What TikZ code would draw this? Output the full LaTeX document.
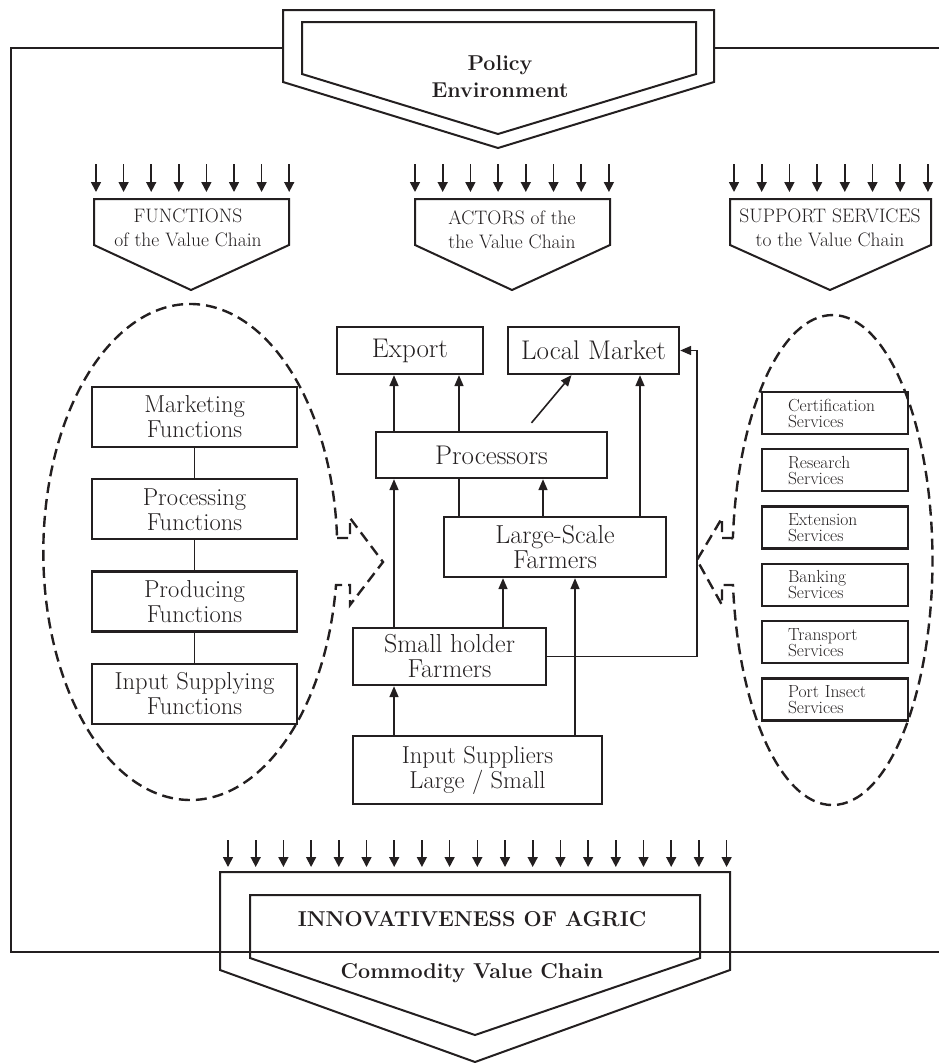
\documentclass[tikz,border=0pt]{standalone}
\usepackage{fontspec}
\usepackage{tikz}
\usetikzlibrary{arrows.meta,positioning,calc}
\definecolor{InkGray}{RGB}{35,31,32}
\newcommand{\boxfont}{\fontsize{27}{28}\selectfont}
\newcommand{\fnfont}{\fontsize{24.5}{25}\selectfont}
\newcommand{\farmfont}{\fontsize{26}{25}\selectfont}
\newcommand{\svcfont}{\fontsize{17.5}{16}\selectfont}
\newcommand{\headfont}{\fontsize{19.5}{24}\selectfont}
\newcommand{\titlefont}{\fontsize{21.5}{27}\selectfont\bfseries}

\begin{document}
\begin{tikzpicture}[x=1pt, y=-1pt,
    box/.style={draw=InkGray, line width=2.3pt, align=center, text=InkGray, inner sep=2pt},
    fnbox/.style={box, font=\fnfont, minimum width=205pt, minimum height=60pt},
    svcbox/.style={box, font=\svcfont, minimum width=146pt, minimum height=42pt, text width=94pt, align=left},
    headtext/.style={align=center, text=InkGray, inner sep=0pt},
    arrow/.style={-{Triangle[length=11pt,width=9pt]}, line width=1.6pt, draw=InkGray},
    link/.style={line width=1.6pt, draw=InkGray},
    drop/.style={-{Triangle[length=10pt,width=10pt]}, line width=1.6pt, draw=InkGray},
    pent/.style={line width=2pt, draw=InkGray, line join=miter},
    frameline/.style={line width=1.8pt, draw=InkGray},
    dashline/.style={line width=2.4pt, draw=InkGray, dash pattern=on 11pt off 6pt}
  ]
  \useasboundingbox (0,0) rectangle (939,1063);

  % outer frame
  \draw[frameline] (283,48) -- (11,48) -- (11,952) -- (939,952);
  \draw[frameline] (714,48) -- (939,48);

  % policy environment
  \draw[pent] (283,10) -- (714,10) -- (714,82) -- (498,148) -- (283,82) -- cycle;
  \draw[pent] (302,22) -- (696,22) -- (696,74) -- (498,134) -- (302,74) -- cycle;
  \node[headtext, font=\titlefont] (policy) at (500,77) {Policy\\Environment};

  % the three headings
  \foreach \i in {0,...,7} {
    \draw[drop] (96+27.6*\i,164) -- ++(0,28);
    \draw[drop] (415+27.7*\i,164) -- ++(0,28);
    \draw[drop] (734+27.7*\i,164) -- ++(0,28);
  }
  \draw[pent] (94,199) -- (289,199) -- (289,245) -- (191,290) -- (94,245) -- cycle;
  \draw[pent] (415,199) -- (610,199) -- (610,245) -- (512,290) -- (415,245) -- cycle;
  \draw[pent] (730,199) -- (931,199) -- (931,245) -- (830,290) -- (730,245) -- cycle;
  \node[headtext, font=\headfont] (fun) at (188,228) {FUNCTIONS\\of the Value Chain};
  \node[headtext, font=\headfont] (act) at (512,230) {ACTORS of the\\the Value Chain};
  \node[headtext, font=\headfont] (sup) at (830,228) {SUPPORT SERVICES\\to the Value Chain};

  % functions
  \draw[dashline] (337,538) -- (350,538) -- (350,518) -- (383,562) -- (350,605) -- (350,585) -- (336,585)
    arc[start angle=-7.65, end angle=-356.76, x radius=147pt, y radius=248pt] -- cycle;
  \node[fnbox] (market) at (194.5,417) {Marketing\\Functions};
  \node[fnbox, below=30pt of market] (process) {Processing\\Functions};
  \node[fnbox, below=30pt of process] (produce) {Producing\\Functions};
  \node[fnbox, below=30pt of produce] (supply) {Input Supplying\\Functions};
  \draw[link] (market) -- (process);
  \draw[link] (process) -- (produce);
  \draw[link] (produce) -- (supply);

  % support services
  \draw[dashline] (733,538) -- (722,538) -- (722,518) -- (697,560) -- (722,605) -- (722,585) -- (733,585)
    arc[start angle=185.85, end angle=534.85, x radius=100pt, y radius=245pt] -- cycle;
  \node[svcbox] (cert) at (835,413) {Certification\\Services};
  \node[svcbox, below=13pt of cert] (research) {Research\\Services};
  \node[svcbox, below=13pt of research] (extend) {Extension\\Services};
  \node[svcbox, below=13pt of extend] (bank) {Banking\\Services};
  \node[svcbox, below=13pt of bank] (transport) {Transport\\Services};
  \node[svcbox, below=13pt of transport] (port) {Port Insect\\Services};

  % actors
  \node[box, font=\boxfont, minimum width=146pt, minimum height=47pt] (export) at (410,350.5) {Export};
  \node[box, font=\boxfont, minimum width=171pt, minimum height=47pt] (local) at (593.5,350.5) {Local Market};
  \node[box, font=\boxfont, minimum width=231pt, minimum height=46pt] (proc) at (491.5,455) {Processors};
  \node[box, font=\farmfont, minimum width=222pt, minimum height=60pt] (large) at (555,547) {Large-Scale\\Farmers};
  \node[box, font=\farmfont, minimum width=193pt, minimum height=57pt] (small) at (449.5,656.5) {Small holder\\Farmers};
  \node[box, font=\fnfont, minimum width=249pt, minimum height=68pt] (input) at (477.5,770) {Input Suppliers\\Large / Small};

  \coordinate (cA) at (394,0);
  \coordinate (cB) at (459,0);
  \coordinate (cC) at (543,0);
  \coordinate (cD) at (503,0);
  \coordinate (cE) at (575,0);
  \coordinate (cF) at (640,0);
  \coordinate (cG) at (697,0);
  \draw[arrow] (cA |- proc.north) -- (cA |- export.south);
  \draw[arrow] (cB |- proc.north) -- (cB |- export.south);
  \draw[arrow] ([xshift=40pt,yshift=8pt]proc.north) -- ([xshift=-22pt]local.south);
  \draw[arrow] (cF |- large.north) -- (cF |- local.south);
  \draw[arrow] (cC |- large.north) -- (cC |- proc.south);
  \draw[link] (cB |- large.north) -- (cB |- proc.south);
  \draw[arrow] (cA |- small.north) -- (cA |- proc.south);
  \draw[arrow] (cD |- small.north) -- (cD |- large.south);
  \draw[arrow] (cE |- input.north) -- (cE |- large.south);
  \draw[arrow] (cA |- input.north) -- (cA |- small.south);
  \draw[arrow] (small.east) -| (cG |- local.east) -- (local.east);

  % commodity value chain
  \foreach \i in {0,...,18}
    \draw[drop] (228+27.7*\i,840) -- ++(0,27);
  \draw[pent] (220,872) -- (730,872) -- (730,970) -- (475,1062) -- (220,970) -- cycle;
  \draw[pent] (250,895) -- (700,895) -- (700,958) -- (475,1035) -- (250,958) -- cycle;
  \node[headtext, font=\titlefont] (innov) at (472,919) {INNOVATIVENESS OF AGRIC};
  \node[headtext, font=\titlefont] (commod) at (472,973) {Commodity Value Chain};
\end{tikzpicture}
\end{document}
